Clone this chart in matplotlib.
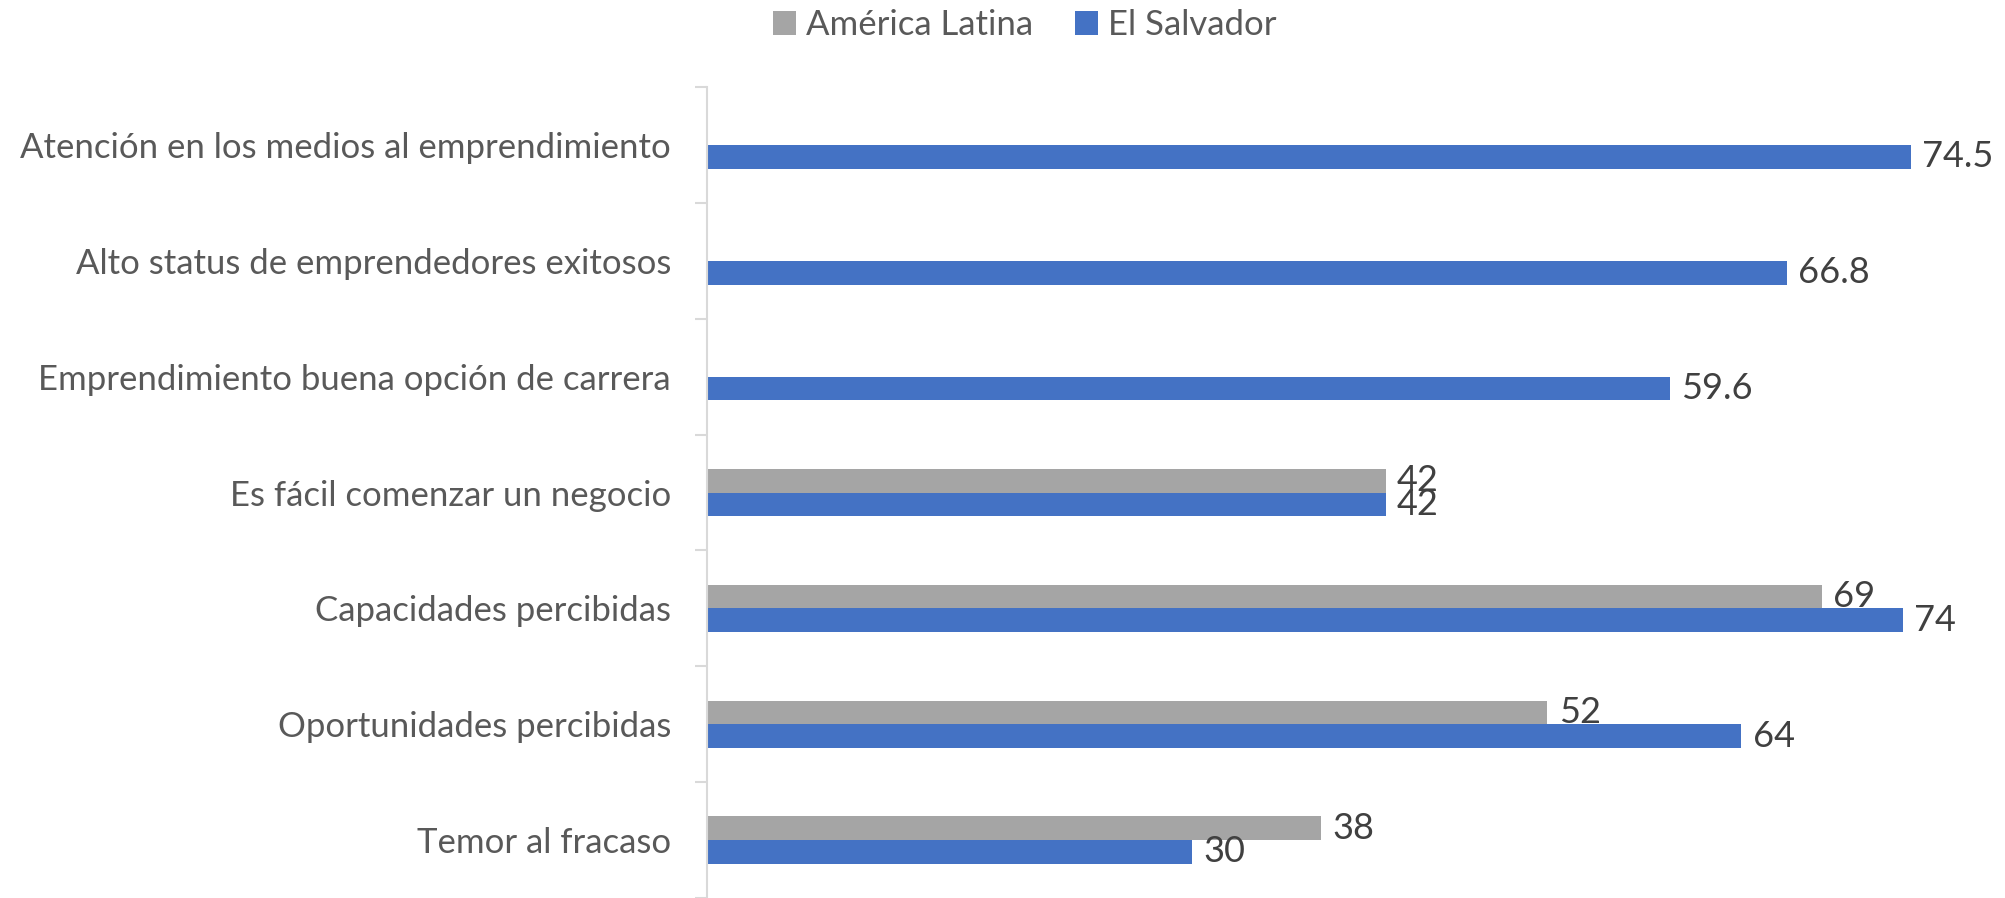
import matplotlib

matplotlib.use("Agg")
import matplotlib.pyplot as plt
import numpy as np

# Data
categories = [
    "Atención en los medios al emprendimiento",
    "Alto status de emprendedores exitosos",
    "Emprendimiento buena opción de carrera",
    "Es fácil comenzar un negocio",
    "Capacidades percibidas",
    "Oportunidades percibidas",
    "Temor al fracaso",
]
america_latina = [np.nan, np.nan, np.nan, 42, 69, 52, 38]
el_salvador = [74.5, 66.8, 59.6, 42, 74, 64, 30]
series_names = ["América Latina", "El Salvador"]

_GRAY = "#A5A5A5"
_BLUE = "#4472C4"
_TXT = "#595959"
_VAL = "#404040"

plt.rcParams["font.family"] = ["Lato", "DejaVu Sans"]

fig = plt.figure(figsize=(20.06, 8.98), dpi=100)
ax = fig.add_axes([0.3525, 0.0, 0.6445, 0.903])

y = np.arange(len(categories))
h = 0.204
ax.barh(y - h / 2, america_latina, height=h, color=_GRAY, label=series_names[0])
ax.barh(y + h / 2, el_salvador, height=h, color=_BLUE, label=series_names[1])

for yi, v in zip(y, america_latina):
    if not np.isnan(v):
        ax.annotate("{:g}".format(v), (v, yi - h / 2), textcoords="offset points",
                    xytext=(8, 0), va="center", ha="left", fontsize=26, color=_VAL)
for yi, v in zip(y, el_salvador):
    ax.annotate("{:g}".format(v), (v, yi + h / 2), textcoords="offset points",
                xytext=(8, 0), va="center", ha="left", fontsize=26, color=_VAL)

ax.set_xlim(0, 80)
ax.set_ylim(len(categories) - 0.5, -0.5)
ax.set_yticks(y)
ax.set_yticklabels(categories, fontsize=25, color=_TXT)
ax.set_yticks(np.arange(len(categories) + 1) - 0.5, minor=True)
ax.tick_params(axis="y", which="major", length=0, pad=26)
ax.tick_params(axis="y", which="minor", length=9, width=1.5, color="#D9D9D9")
ax.set_xticks([])
for side in ("top", "right", "bottom"):
    ax.spines[side].set_visible(False)
ax.spines["left"].set_color("#D9D9D9")
ax.spines["left"].set_linewidth(1.5)

fig.legend(loc="center", bbox_to_anchor=(0.511, 0.972), ncol=2, frameon=False,
           fontsize=25, labelcolor=_TXT, handlelength=0.65, handleheight=0.65,
           handletextpad=0.3, columnspacing=1.2)

fig.savefig("out.png", dpi=100)
